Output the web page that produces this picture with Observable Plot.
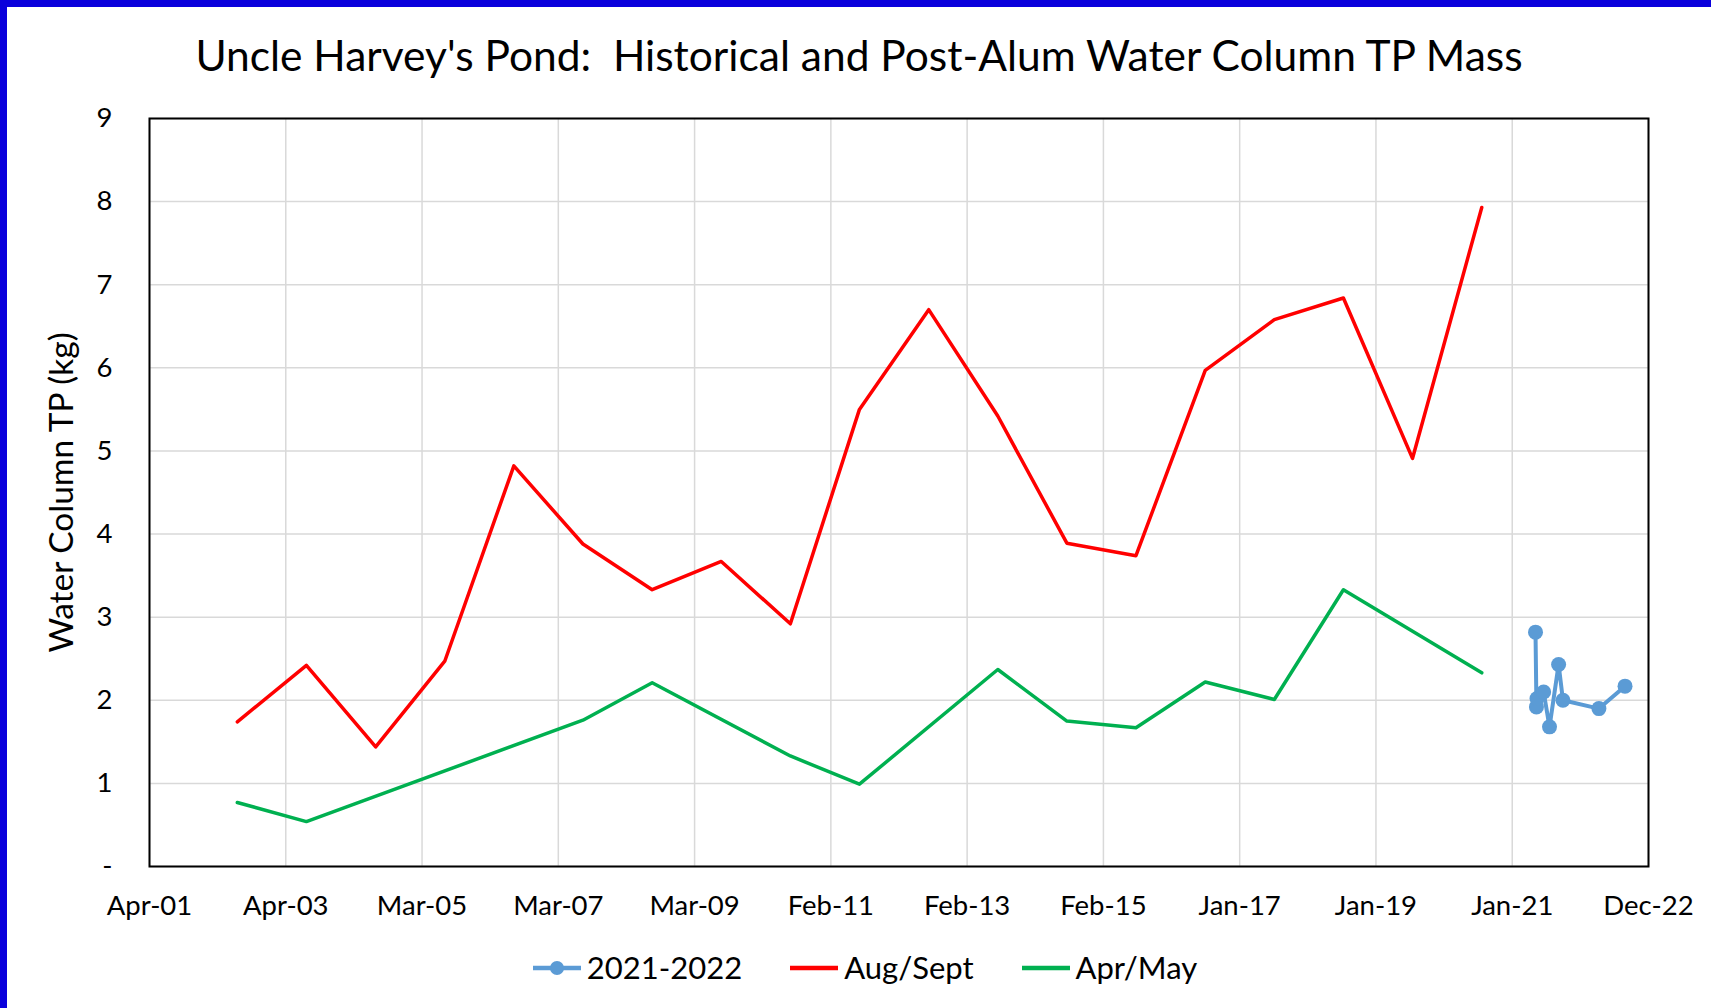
<!DOCTYPE html>
<html>
<head>
<meta charset="utf-8">
<script src="https://cdn.jsdelivr.net/npm/d3@7"></script>
<script src="https://cdn.jsdelivr.net/npm/@observablehq/plot@0.6"></script>
<style>
  html, body { margin: 0; padding: 0; background: #fff; }
  #page {
    position: relative; width: 1711px; height: 1008px; box-sizing: border-box;
    border-left: 7px solid #0a00dc; border-top: 7px solid #0a00dc;
    font-family: Lato, sans-serif; color: #000; overflow: hidden; background: #fff;
  }
  #title {
    position: absolute; left: 0; right: 0; top: 27px; text-align: center;
    font-size: 42.5px; line-height: 1; white-space: pre;
  }
  #chart { position: absolute; left: -7px; top: 93px; }
  #legend {
    position: absolute; left: 12px; right: 0; top: 945px; display: flex;
    justify-content: center; align-items: center; font-size: 31px; line-height: 1;
  }
  .item { display: flex; align-items: center; margin: 0 24px; }
  .item svg { margin-right: 6px; }
</style>
</head>
<body>
<div id="page">
  <div id="title">Uncle Harvey's Pond:  Historical and Post-Alum Water Column TP Mass</div>
  <div id="chart"></div>
  <div id="legend"></div>
</div>
<script>
// ---- Data ----
const augYears  = [2002, 2003, 2004, 2005, 2006, 2007, 2008, 2009, 2010, 2011, 2012, 2013, 2014, 2015, 2016, 2017, 2018, 2019, 2020];
const augValues = [1.74, 2.42, 1.44, 2.47, 4.82, 3.88, 3.33, 3.67, 2.92, 5.50, 6.70, 5.42, 3.89, 3.74, 5.97, 6.58, 6.84, 4.91, 7.93];

const aprYears  = [2002, 2003, 2007, 2008, 2010, 2011, 2013, 2014, 2015, 2016, 2017, 2018, 2020];
const aprValues = [0.77, 0.54, 1.76, 2.21, 1.33, 0.99, 2.37, 1.75, 1.67, 2.22, 2.01, 3.33, 2.33];

const postDates  = ["2021-05-07", "2021-05-12", "2021-05-15", "2021-06-19", "2021-07-20", "2021-09-06", "2021-09-29", "2022-04-07", "2022-08-23"];
const postValues = [2.82, 1.92, 2.02, 2.10, 1.68, 2.43, 2.00, 1.90, 2.17];

const yTicks = [0, 1, 2, 3, 4, 5, 6, 7, 8, 9];
const xStart = "2001-04-19";
const xTickStepDays = 720;
const xTickCount = 12;

const seriesNames = ["2021-2022", "Aug/Sept", "Apr/May"];
const seriesColors = ["#5b9bd5", "#ff0000", "#00b050"];

// ---- Build tables ----
const xMin = new Date(xStart + "T00:00:00Z");
const xTicks = d3.range(xTickCount).map(k => d3.utcDay.offset(xMin, xTickStepDays * k));
const xMax = xTicks[xTicks.length - 1];

const augData = augYears.map((y, i) => ({date: new Date(Date.UTC(y, 6, 27)), value: augValues[i]}));
const aprData = aprYears.map((y, i) => ({date: new Date(Date.UTC(y, 6, 27)), value: aprValues[i]}));
const postData = postDates.map((d, i) => ({date: new Date(d + "T00:00:00Z"), value: postValues[i]}));

const chart = Plot.plot({
  width: 1711,
  height: 830,
  marginLeft: 149,
  marginRight: 63,
  marginTop: 18,
  marginBottom: 64,
  style: {fontFamily: "Lato, sans-serif", fontSize: "27.5px", color: "#000", background: "transparent", overflow: "visible"},
  x: {type: "utc", domain: [xMin, xMax]},
  y: {domain: [0, 9]},
  marks: [
    Plot.gridX(xTicks, {stroke: "#d9d9d9", strokeOpacity: 1, strokeWidth: 1.5}),
    Plot.gridY(yTicks, {stroke: "#d9d9d9", strokeOpacity: 1, strokeWidth: 1.5}),
    Plot.axisX(xTicks, {tickSize: 0, tickPadding: 29, tickFormat: d3.utcFormat("%b-%y"), label: null}),
    Plot.axisY(yTicks, {tickSize: 0, tickPadding: 37, tickFormat: d => d === 0 ? "-" : String(d), label: null}),
    Plot.line(postData, {x: "date", y: "value", stroke: seriesColors[0], strokeWidth: 4}),
    Plot.dot(postData, {x: "date", y: "value", r: 7.5, fill: seriesColors[0], stroke: "none"}),
    Plot.line(augData, {x: "date", y: "value", stroke: seriesColors[1], strokeWidth: 3.5}),
    Plot.line(aprData, {x: "date", y: "value", stroke: seriesColors[2], strokeWidth: 3.5}),
    Plot.frame({stroke: "#000", strokeWidth: 2}),
    Plot.text(["Water Column TP (kg)"], {frameAnchor: "left", textAnchor: "middle", rotate: -90, dx: -87, fontSize: 33.5, fill: "#000"})
  ]
});
document.getElementById("chart").appendChild(chart);

// ---- Legend ----
const legend = document.getElementById("legend");
seriesNames.forEach((name, i) => {
  const item = document.createElement("div");
  item.className = "item";
  const dot = i === 0 ? `<circle cx="24" cy="15" r="7" fill="${seriesColors[i]}"/>` : "";
  item.innerHTML = `<svg width="48" height="30"><line x1="0" x2="48" y1="15" y2="15" stroke="${seriesColors[i]}" stroke-width="4.5"/>${dot}</svg><span>${name}</span>`;
  legend.appendChild(item);
});
</script>
</body>
</html>
